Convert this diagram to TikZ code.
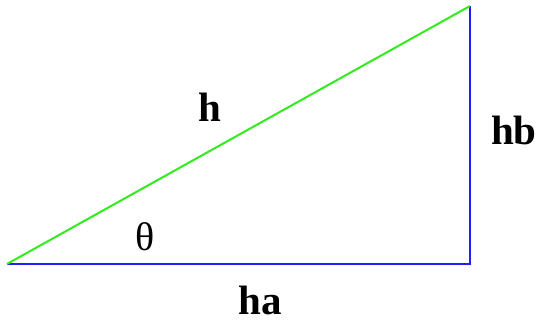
\documentclass[tikz,border=0pt]{standalone}
\usepackage{fontspec}
\setmainfont{Liberation Serif}
\usepackage{xcolor}
\definecolor{legblue}{RGB}{30,30,255}
\definecolor{hypgreen}{RGB}{50,235,30}
\begin{document}
\begin{tikzpicture}[x=1pt,y=-1pt,
    side/.style={line width=2.4pt, legblue},
    hyp/.style={line width=2pt, hypgreen},
    lbl/.style={font=\fontsize{41}{41}\selectfont\bfseries, inner sep=0pt}]
  \useasboundingbox (0,0) rectangle (541,324);
  % triangle corners
  \coordinate (A) at (7,264);
  \coordinate (B) at (470,264);
  \coordinate (C) at (470,6);

  % legs and hypotenuse
  \draw[side] (A) -- (B) -- (C);
  \draw[hyp] (A) -- (C);

  % labels
  \node[lbl] (hlab) at (210,107) {h};
  \node[lbl] (hblab) at (514,130) {hb};
  \node[lbl] (halab) at (260,300) {ha};
  \node[font=\fontsize{40}{40}\selectfont, inner sep=0pt] (theta) at (145,237) {θ};
\end{tikzpicture}
\end{document}
